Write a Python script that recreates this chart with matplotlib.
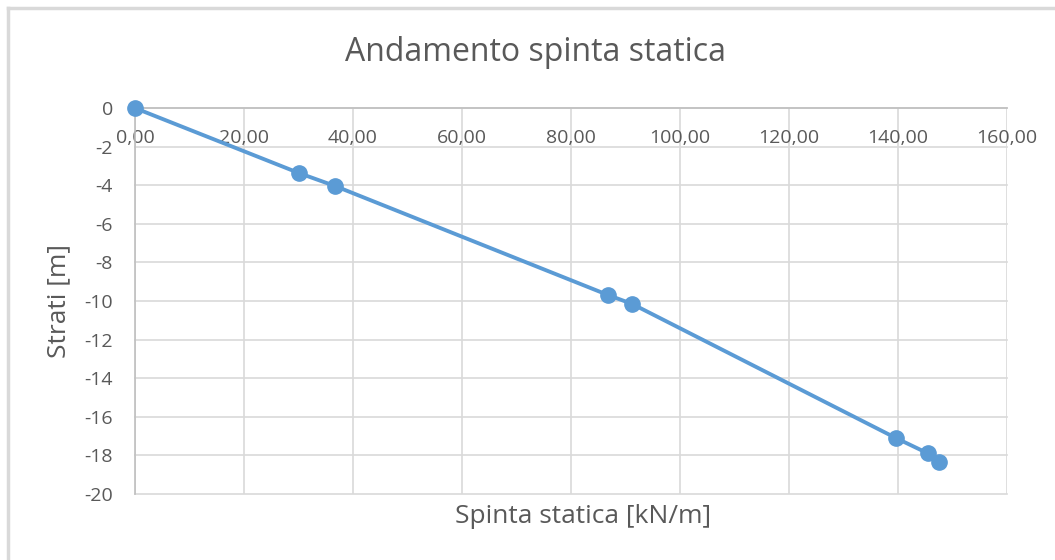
import matplotlib.pyplot as plt
from matplotlib.lines import Line2D

plt.rcParams['axes.unicode_minus'] = False
plt.rcParams['font.family'] = ['Open Sans', 'DejaVu Sans']

# spinta statica [kN/m] vs quota strato [m]
spinta = [0.0, 30.1, 36.7, 86.8, 91.2, 139.6, 145.5, 147.5]
strati = [0.0, -3.37, -4.04, -9.69, -10.15, -17.1, -17.9, -18.34]
x_ticks = [0, 20, 40, 60, 80, 100, 120, 140, 160]
y_ticks = [0, -2, -4, -6, -8, -10, -12, -14, -16, -18, -20]

text_col = '#595959'
grid_col = '#D9D9D9'
line_col = '#5B9BD5'

fig = plt.figure(figsize=(10.55, 5.6), dpi=100)
# chart frame (only top and left visible in the picture)
fig.lines.append(Line2D([0.0076, 0.0076], [0.0, 0.986], transform=fig.transFigure,
                        color='#D9D9D9', linewidth=2.5))
fig.lines.append(Line2D([0.0076, 1.0], [0.986, 0.986], transform=fig.transFigure,
                        color='#D9D9D9', linewidth=2.5))

ax = fig.add_axes([0.128, 0.118, 0.8265, 0.689])

ax.plot(spinta, strati, color=line_col, linewidth=2.8, marker='o',
        markersize=11, zorder=3, clip_on=False)

ax.set_xlim(0, 160)
ax.set_ylim(-20, 0)
ax.set_xticks(x_ticks)
ax.set_xticklabels([f"{v:.2f}".replace('.', ',') for v in x_ticks])
ax.set_yticks(y_ticks)
ax.set_yticklabels([str(v) for v in y_ticks])

ax.grid(True, color=grid_col, linewidth=1.2)
ax.set_axisbelow(True)
for gl in ax.get_xgridlines() + ax.get_ygridlines():
    gl.set_clip_on(False)
for s in ['top', 'right']:
    ax.spines[s].set_visible(False)
ax.spines['bottom'].set_position(('data', 0))
ax.spines['bottom'].set_color('#BFBFBF')
ax.spines['left'].set_color('#BFBFBF')
ax.spines['bottom'].set_linewidth(1.2)
ax.spines['left'].set_linewidth(1.2)
ax.tick_params(length=0, colors=text_col, labelsize=14)
ax.tick_params(axis='x', pad=15)
ax.tick_params(axis='y', pad=16)

fig.text(0.508, 0.907, 'Andamento spinta statica', ha='center', va='center',
         fontsize=23, color=text_col)
fig.text(0.553, 0.077, 'Spinta statica [kN/m]', ha='center', va='center',
         fontsize=19, color=text_col)
fig.text(0.056, 0.462, 'Strati [m]', ha='center', va='center', rotation=90,
         fontsize=19, color=text_col)

fig.savefig('out.png', dpi=100)
